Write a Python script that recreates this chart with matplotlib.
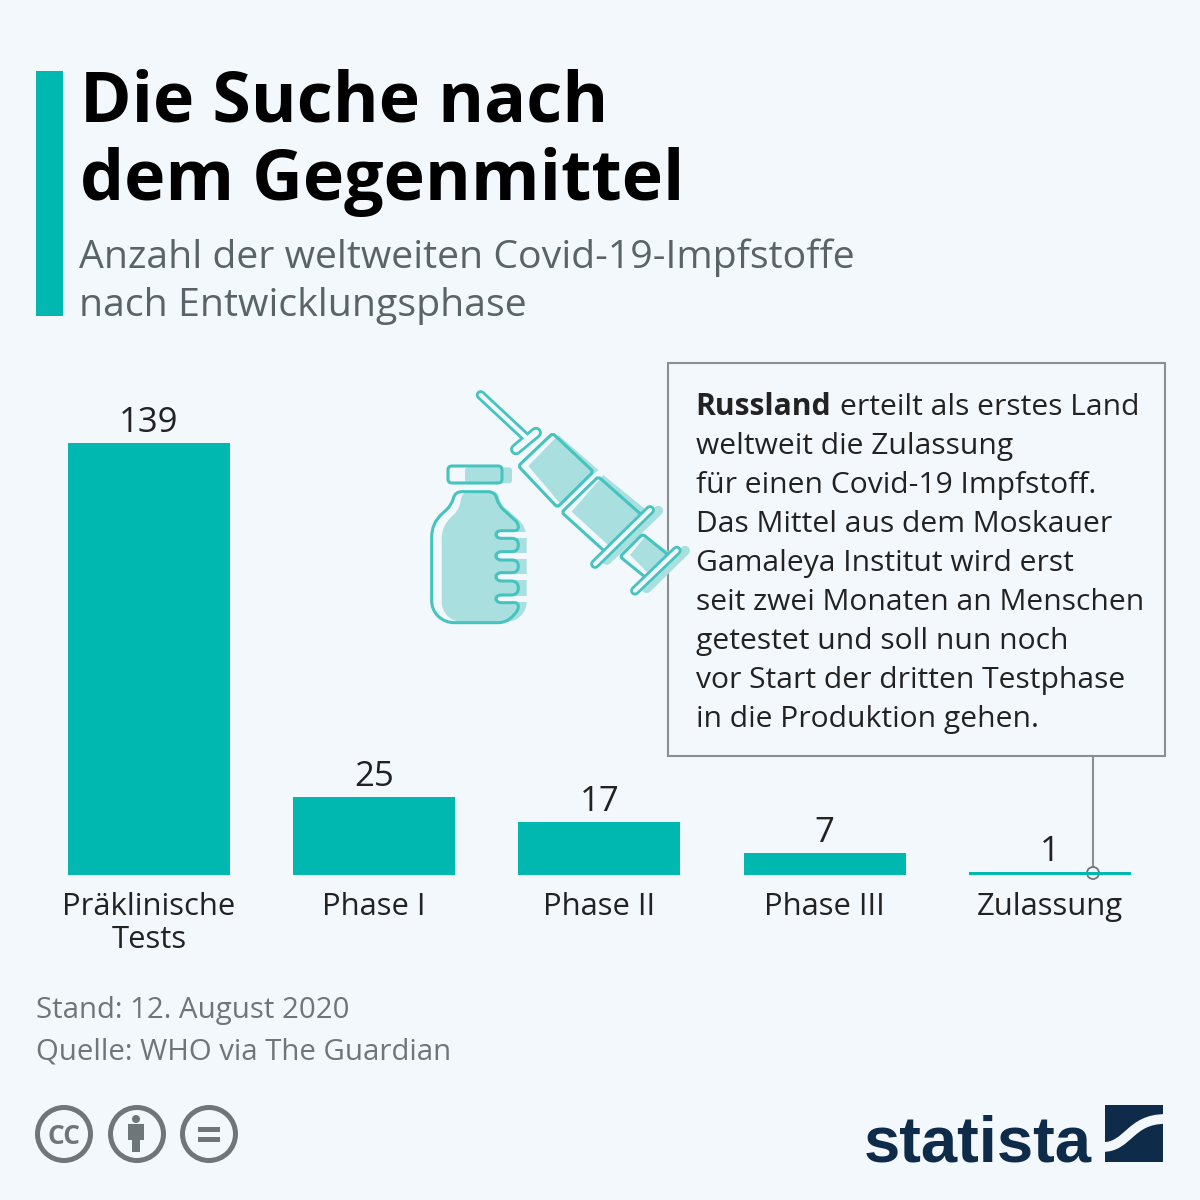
import numpy as np
import matplotlib
matplotlib.use('Agg')
import matplotlib.pyplot as plt
from matplotlib.patches import Circle, FancyBboxPatch, PathPatch, Polygon, Rectangle
from matplotlib.path import Path

plt.rcParams['font.family'] = ['Open Sans', 'DejaVu Sans']

categories = ['Präklinische\nTests', 'Phase I', 'Phase II', 'Phase III', 'Zulassung']
values = [139, 25, 17, 7, 1]

title_lines = ['Die Suche nach', 'dem Gegenmittel']
subtitle_lines = ['Anzahl der weltweiten Covid-19-Impfstoffe', 'nach Entwicklungsphase']
note_lines = ['weltweit die Zulassung',
              'für einen Covid-19 Impfstoff.',
              'Das Mittel aus dem Moskauer',
              'Gamaleya Institut wird erst',
              'seit zwei Monaten an Menschen',
              'getestet und soll nun noch',
              'vor Start der dritten Testphase',
              'in die Produktion gehen.']
source_lines = ['Stand: 12. August 2020', 'Quelle: WHO via The Guardian']

BG = '#f3f8fd'
TEAL = '#00b8b0'
ICON = '#45c4bf'
ICON_FILL = '#a9e0df'
GREY = '#6f7679'
NAVY = '#0f2b4a'

fig = plt.figure(figsize=(12, 12), dpi=100, facecolor=BG)

# overlay in pixel coordinates for everything around the chart
bg = fig.add_axes([0, 0, 1, 1])
bg.set_xlim(0, 1200)
bg.set_ylim(1200, 0)
bg.axis('off')

# bars
ax = fig.add_axes([36.4 / 1200, 325 / 1200, 1126 / 1200, 432 / 1200])
ax.patch.set_alpha(0)
x = np.arange(len(values))
ax.bar(x, values, width=0.72, color=TEAL)
ax.set_xlim(-0.5, 4.5)
ax.set_ylim(0, 139)
for s in ax.spines.values():
    s.set_visible(False)
ax.set_yticks([])
ax.set_xticks(x)
ax.set_xticklabels(categories, fontsize=22.3, color='#222222', linespacing=1.12)
ax.tick_params(axis='x', length=0, pad=12.5)
for i, v in enumerate(values):
    ax.annotate(str(v), (i, v), xytext=(0, 2.3), textcoords='offset points',
                ha='center', va='bottom', fontsize=25, color='#222222')

# header
bg.add_patch(Rectangle((36, 71), 27, 245, color=TEAL, lw=0))
for line, y in zip(title_lines, [122, 200]):
    bg.text(80, y, line, fontsize=50.3, fontweight='bold', color='black', va='baseline')
for line, y in zip(subtitle_lines, [268, 316]):
    bg.text(79, y, line, fontsize=28.3, color='#5a6468', va='baseline')

# annotation box with leader line
bg.add_patch(Rectangle((668, 363), 497, 393, fc=BG, ec='#8a8f92', lw=1.5, zorder=1))
bg.plot([1093, 1093], [756, 867], color='#8a8f92', lw=1.5, zorder=5)
bg.add_patch(Circle((1093, 873), 6, fc='none', ec='#6f7679', lw=1.3, zorder=5))
bg.text(695.5, 415, 'Russland', fontsize=21.6, fontweight='bold', color='#222222', zorder=6)
bg.text(840, 415, 'erteilt als erstes Land', fontsize=21.6, color='#222222', zorder=6)
for i, line in enumerate(note_lines):
    bg.text(696, 454 + i * 39, line, fontsize=21.6, color='#222222', zorder=6)


# zoomed crop coordinates of the icon back to picture pixels
def z(*pts):
    return [(420 + a / 3, 380 + b / 3) for a, b in pts]


# closed path through pts with rounded corners, r in picture pixels
def rounded(pts, r):
    n = len(pts)
    verts, codes = [], []
    for i in range(n):
        p0, p1, p2 = np.array(pts[i - 1]), np.array(pts[i]), np.array(pts[(i + 1) % n])
        d0, d2 = p0 - p1, p2 - p1
        l0, l2 = np.hypot(*d0), np.hypot(*d2)
        rr = min(r, l0 / 2, l2 / 2)
        verts.append(p1 + d0 / l0 * rr)
        codes.append(Path.MOVETO if i == 0 else Path.LINETO)
        verts += [p1, p1 + d2 / l2 * rr]
        codes += [Path.CURVE3, Path.CURVE3]
    verts.append(verts[0])
    codes.append(Path.CLOSEPOLY)
    return Path(verts, codes)


def outline(pts, r=3):
    bg.add_patch(PathPatch(rounded(z(*pts), r), fc='none', ec=ICON, lw=2.2, zorder=8))


def stick(a, b, width=7):
    xs, ys = zip(*z(a, b))
    bg.plot(xs, ys, color=ICON, lw=width, solid_capstyle='round', zorder=8)
    bg.plot(xs, ys, color=BG, lw=width - 4, solid_capstyle='round', zorder=8.5)


def shade(a, b, width=7):
    xs, ys = zip(*z(a, b))
    bg.plot(xs, ys, color=ICON_FILL, lw=width, solid_capstyle='round', zorder=7)


# syringe
bg.add_patch(Polygon(z((325, 258), (415, 165), (535, 270), (420, 370)), color=ICON_FILL, lw=0, zorder=7))
bg.add_patch(Polygon(z((455, 395), (550, 285), (685, 395), (580, 510)), color=ICON_FILL, lw=0, zorder=7))
bg.add_patch(Polygon(z((630, 525), (675, 470), (755, 520), (690, 585)), color=ICON_FILL, lw=0, zorder=7))
shade((560, 540), (715, 392))
shade((680, 625), (795, 512))
stick((182, 45), (318, 172), 7)
stick((288, 208), (348, 158), 8.5)
outline([(295, 258), (398, 160), (520, 275), (412, 382)])
outline([(425, 397), (535, 290), (665, 405), (555, 515)])
outline([(600, 530), (668, 462), (745, 525), (680, 595)])
stick((525, 552), (690, 390), 7)
stick((645, 632), (770, 512), 7)

# bottle
bg.add_patch(FancyBboxPatch((420 + 135 / 3, 380 + 262 / 3), 47, 16, boxstyle='round,pad=0,rounding_size=3',
                            fc=ICON_FILL, ec='none', zorder=7))
bg.add_patch(FancyBboxPatch((420 + 84 / 3, 380 + 258 / 3), 54, 17, boxstyle='round,pad=0,rounding_size=4',
                            fc='none', ec=ICON, lw=2.2, zorder=8))
body_fill = z((125, 335), (235, 335), (240, 370), (320, 440), (320, 690), (285, 725),
              (100, 725), (65, 690), (65, 440), (120, 385))
bg.add_patch(PathPatch(rounded(body_fill, 12), fc=ICON_FILL, ec='none', zorder=7))
for y0 in [455, 518, 581, 648]:
    bg.add_patch(Rectangle((420 + 235 / 3, 380 + y0 / 3), 32, 6, fc=BG, ec='none', zorder=7.5))
body = z((105, 335), (225, 335), (235, 375), (295, 430), (295, 452), (235, 452), (225, 463), (235, 475),
         (295, 475), (295, 515), (235, 515), (225, 528), (235, 540), (295, 540), (295, 578),
         (235, 578), (225, 590), (235, 603), (295, 603), (295, 645), (235, 645), (225, 656),
         (235, 668), (295, 668), (295, 690), (260, 728), (75, 728), (35, 690), (35, 430),
         (95, 375))
bg.add_patch(PathPatch(rounded(body, 14), fc='none', ec=ICON, lw=2.2, zorder=8))

# source
for line, y in zip(source_lines, [1018, 1060]):
    bg.text(36, y, line, fontsize=21.2, color=GREY)

# cc icons
for cx in [64, 137, 209]:
    bg.add_patch(Circle((cx, 1134), 26.5, fc='none', ec=GREY, lw=3.6))
bg.text(64, 1134, 'CC', fontsize=19, fontweight='bold', color=GREY, ha='center', va='center_baseline')
bg.add_patch(Circle((136, 1119), 4, color=GREY, lw=0))
bg.add_patch(Rectangle((128, 1124), 16, 16, color=GREY, lw=0))
bg.add_patch(Rectangle((132, 1139), 8, 13, color=GREY, lw=0))
bg.add_patch(Rectangle((198, 1127), 22, 5, color=GREY, lw=0))
bg.add_patch(Rectangle((198, 1137), 22, 5, color=GREY, lw=0))

# statista logo
bg.text(864, 1161, 'statista', fontsize=47, fontweight='bold', color=NAVY,
        family=['Liberation Sans', 'Open Sans'])
mark = Rectangle((1105, 1105), 58, 57, color=NAVY, lw=0)
bg.add_patch(mark)
swoosh = Path([(1103, 1147), (1128, 1147), (1130, 1119), (1165, 1119)],
              [Path.MOVETO, Path.CURVE4, Path.CURVE4, Path.CURVE4])
band = PathPatch(swoosh, fc='none', ec=BG, lw=7)
bg.add_patch(band)
band.set_clip_path(mark)

fig.savefig('out.png', dpi=100, facecolor=BG)
